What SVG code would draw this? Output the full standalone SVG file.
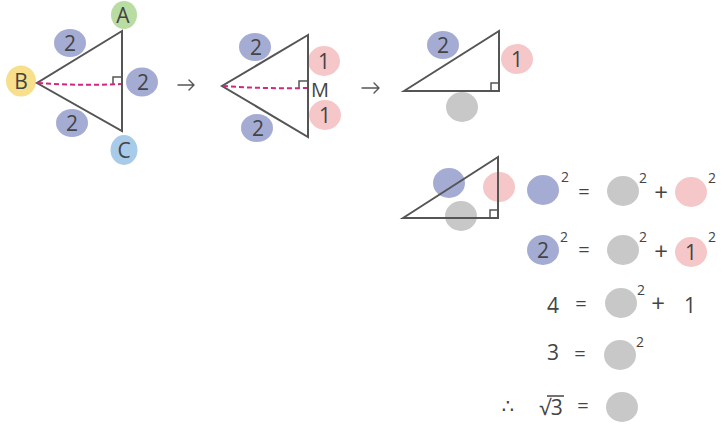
<svg xmlns="http://www.w3.org/2000/svg" width="728" height="425" viewBox="0 0 728 425">
<defs>
<style>
.bg{fill:#ffffff}
.blue{fill:#a5acd4}
.pink{fill:#f5c7c8}
.gray{fill:#c8c8c8}
.green{fill:#b9dca3}
.yellow{fill:#f7df8c}
.lblue{fill:#a7cbe8}
.edge{fill:none;stroke:#555555;stroke-width:2;stroke-linejoin:miter}
.ra{fill:none;stroke:#555555;stroke-width:1.5}
.dash{fill:none;stroke:#cc2a7f;stroke-width:2;stroke-dasharray:5 3}
.arr{fill:none;stroke:#555555;stroke-width:1.4;stroke-linecap:round;stroke-linejoin:round}
.vin{fill:none;stroke:#444444;stroke-width:1.5}
text{font-family:"Open Sans","DejaVu Sans",sans-serif;fill:#444444;text-anchor:middle}
.t{font-size:21px}
.L{font-size:21px}
.sup{font-size:14px}
.op{font-size:20px}
.pl{font-size:24px}
</style>
</defs>
<rect class="bg" x="0" y="0" width="728" height="425"/>

<g id="connectors">
<path class="arr" d="M178,85 H194 M189,80 L194,85 L189,90"/>
<path class="arr" d="M362,88 H379 M374,83 L379,88 L374,93"/>
</g>

<g id="triangle-ABC">
<ellipse class="green" cx="124" cy="15" rx="13" ry="14"/>
<ellipse class="yellow" cx="21" cy="81" rx="15" ry="15.5"/>
<ellipse class="lblue" cx="124" cy="150" rx="13.5" ry="15"/>
<ellipse class="blue" cx="70" cy="43" rx="16" ry="14"/>
<ellipse class="blue" cx="142" cy="82" rx="16" ry="14.5"/>
<ellipse class="blue" cx="72" cy="123" rx="16" ry="14"/>
<path class="edge" d="M122,31 L37,83 L122,131 Z"/>
<path class="ra" d="M113,84 V77 H121"/>
<path class="dash" d="M38,83 Q80,86 121,84"/>
<text class="L" x="123" y="23">A</text>
<text class="L" x="21" y="89">B</text>
<text class="L" x="124" y="158">C</text>
<text class="t" x="70" y="51">2</text>
<text class="t" x="143" y="90">2</text>
<text class="t" x="72" y="131">2</text>
</g>

<g id="triangle-split">
<ellipse class="blue" cx="255" cy="47" rx="16" ry="14"/>
<ellipse class="blue" cx="257" cy="128" rx="16" ry="14"/>
<ellipse class="pink" cx="324" cy="61" rx="16" ry="15"/>
<ellipse class="pink" cx="325" cy="115" rx="16" ry="15"/>
<path class="edge" d="M308,35 L222,86 L308,137 Z"/>
<path class="ra" d="M299,88 V81 H307"/>
<path class="dash" d="M223,86 Q265,89 307,88"/>
<text class="t" x="256" y="55">2</text>
<text class="t" x="258" y="136">2</text>
<text class="t" x="324" y="69">1</text>
<text class="t" x="325" y="123">1</text>
<text class="op" x="320" y="97">M</text>
</g>

<g id="triangle-right">
<ellipse class="blue" cx="443" cy="45" rx="16" ry="14"/>
<ellipse class="pink" cx="517" cy="59" rx="16" ry="15"/>
<ellipse class="gray" cx="462" cy="107" rx="16" ry="15"/>
<path class="edge" d="M404,91 L499,31 L499,91 Z"/>
<path class="ra" d="M491,91 V83 H499"/>
<text class="t" x="443" y="53">2</text>
<text class="t" x="517" y="67">1</text>
</g>

<g id="triangle-blank">
<ellipse class="blue" cx="449" cy="183" rx="16" ry="15"/>
<ellipse class="pink" cx="499" cy="187" rx="16" ry="15"/>
<ellipse class="gray" cx="461" cy="216" rx="16" ry="15"/>
<path class="edge" d="M403,218 L498,157 L498,218 Z"/>
<path class="ra" d="M490,218 V210 H498"/>
</g>

<g id="eq1">
<ellipse class="blue" cx="543" cy="190" rx="16" ry="15"/>
<text class="sup" x="565" y="182">2</text>
<text class="op" x="584" y="199">=</text>
<ellipse class="gray" cx="623" cy="191" rx="16" ry="15"/>
<text class="sup" x="643" y="183">2</text>
<text class="pl" x="661" y="201">+</text>
<ellipse class="pink" cx="691" cy="192" rx="16" ry="15"/>
<text class="sup" x="712" y="183">2</text>
</g>

<g id="eq2">
<ellipse class="blue" cx="543" cy="250" rx="16" ry="15"/>
<text class="t" x="543" y="258">2</text>
<text class="sup" x="564" y="242">2</text>
<text class="op" x="584" y="257">=</text>
<ellipse class="gray" cx="623" cy="250" rx="16" ry="15"/>
<text class="sup" x="643" y="242">2</text>
<text class="pl" x="661" y="260">+</text>
<ellipse class="pink" cx="691" cy="252" rx="16" ry="15"/>
<text class="t" x="691" y="260">1</text>
<text class="sup" x="712" y="242">2</text>
</g>

<g id="eq3">
<text class="t" x="553" y="313">4</text>
<text class="op" x="581" y="311">=</text>
<ellipse class="gray" cx="621" cy="303" rx="16" ry="15"/>
<text class="sup" x="641" y="295">2</text>
<text class="pl" x="658" y="312">+</text>
<text class="t" x="690" y="313">1</text>
</g>

<g id="eq4">
<text class="t" x="553" y="360">3</text>
<text class="op" x="580" y="361">=</text>
<ellipse class="gray" cx="620" cy="355" rx="16" ry="15"/>
<text class="sup" x="640" y="347">2</text>
</g>

<g id="eq5">
<text class="op" x="508" y="413">∴</text>
<text class="t" x="551" y="415">√3</text>
<path class="vin" d="M547,396 H564"/>
<text class="op" x="583" y="413">=</text>
<ellipse class="gray" cx="622" cy="407" rx="16" ry="15"/>
</g>
</svg>
